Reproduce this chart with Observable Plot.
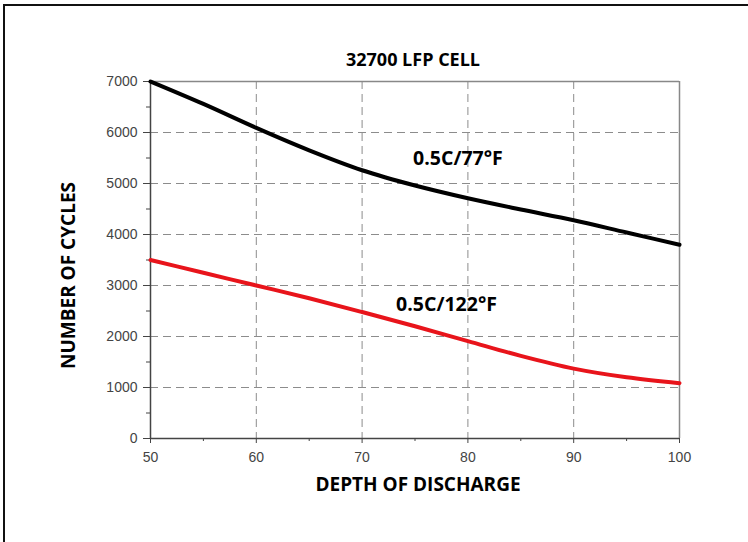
<!DOCTYPE html>
<html>
<head>
<meta charset="utf-8">
<script src="https://cdn.jsdelivr.net/npm/d3@7"></script>
<script src="https://cdn.jsdelivr.net/npm/@observablehq/plot@0.6"></script>
<style>
  html, body { margin: 0; padding: 0; background: #fff; }
  #wrap { position: relative; width: 748px; height: 542px; overflow: hidden; }
  #frame { position: absolute; left: 3px; top: 4px; width: 760px; height: 560px; border: 2px solid #111; box-sizing: border-box; }
  #chart { position: absolute; left: 0; top: 0; }
</style>
</head>
<body>
<div id="wrap"><div id="frame"></div><div id="chart"></div></div>
<script>
const title = "32700 LFP CELL";
const xLabel = "DEPTH OF DISCHARGE";
const yLabel = "NUMBER OF CYCLES";
const dod = [50, 55, 60, 65, 70, 75, 80, 85, 90, 95, 100];
const cycles77 = [7000, 6560, 6090, 5650, 5260, 4960, 4710, 4490, 4280, 4040, 3800];
const cycles122 = [3500, 3250, 3000, 2750, 2480, 2200, 1910, 1620, 1370, 1200, 1085];
const seriesNames = ["0.5C/77°F", "0.5C/122°F"];
const seriesLabelX = [79.06, 77.98];
const seriesLabelY = [5480, 2627];
const xTicks = [50, 60, 70, 80, 90, 100];
const xMinor = [55, 65, 75, 85, 95];
const yTicks = [0, 1000, 2000, 3000, 4000, 5000, 6000, 7000];
const yMinor = [500, 1500, 2500, 3500, 4500, 5500, 6500];

const d77 = dod.map((d, i) => ({dod: d, cycles: cycles77[i]}));
const d122 = dod.map((d, i) => ({dod: d, cycles: cycles122[i]}));
const labels = seriesNames.map((n, i) => ({name: n, x: seriesLabelX[i], y: seriesLabelY[i]}));

const boldFont = "'Open Sans', Lato, sans-serif";
const tickFont = "'Liberation Sans', Arial, sans-serif";
const grid = {stroke: "#8c8c8c", strokeOpacity: 1, strokeDasharray: "8,5", strokeWidth: 1};

const chart = Plot.plot({
  width: 748,
  height: 542,
  marginLeft: 150,
  marginRight: 69,
  marginTop: 81,
  marginBottom: 104,
  style: {fontFamily: tickFont, background: "transparent", overflow: "visible"},
  x: {domain: [50, 100]},
  y: {domain: [0, 7000]},
  marks: [
    Plot.gridX(xTicks.slice(1, -1), grid),
    Plot.gridY(yTicks.slice(1, -1), grid),
    Plot.ruleY([7000], {stroke: "#888", strokeWidth: 1.5}),
    Plot.ruleX([100], {stroke: "#888", strokeWidth: 1.5}),
    Plot.axisX(xTicks, {tickSize: 5, tickPadding: 9, fontSize: 14, color: "#444", stroke: "#444", tickFormat: "d", label: null}),
    Plot.axisX(xMinor, {tickSize: 3, text: null, stroke: "#444", label: null}),
    Plot.axisY(yTicks, {tickSize: 7, tickPadding: 6, fontSize: 14, color: "#444", stroke: "#444", tickFormat: "d", label: null}),
    Plot.axisY(yMinor, {tickSize: 4, text: null, stroke: "#444", label: null}),
    Plot.ruleY([0], {stroke: "#444", strokeWidth: 1.5}),
    Plot.ruleX([50], {stroke: "#444", strokeWidth: 1.5}),
    Plot.line(d77, {x: "dod", y: "cycles", stroke: "#000", strokeWidth: 4, curve: "monotone-x"}),
    Plot.line(d122, {x: "dod", y: "cycles", stroke: "#e8141b", strokeWidth: 4, curve: "monotone-x"}),
    Plot.text(labels, {x: "x", y: "y", text: "name", fontSize: 19.5, fontWeight: "bold", fontFamily: boldFont, fill: "#000"}),
    Plot.text([title], {frameAnchor: "top", lineAnchor: "middle", textAnchor: "middle", dx: -2, dy: -21, fontSize: 18, fontWeight: "bold", fontFamily: boldFont, fill: "#000"}),
    Plot.text([xLabel], {frameAnchor: "bottom", lineAnchor: "middle", textAnchor: "middle", dx: 3, dy: 46, fontSize: 19, fontWeight: "bold", fontFamily: boldFont, fill: "#000"}),
    Plot.text([yLabel], {frameAnchor: "left", lineAnchor: "middle", textAnchor: "middle", dx: -82, dy: 15.5, rotate: -90, fontSize: 19, fontWeight: "bold", fontFamily: boldFont, fill: "#000"})
  ]
});
document.getElementById("chart").appendChild(chart);
</script>
</body>
</html>
